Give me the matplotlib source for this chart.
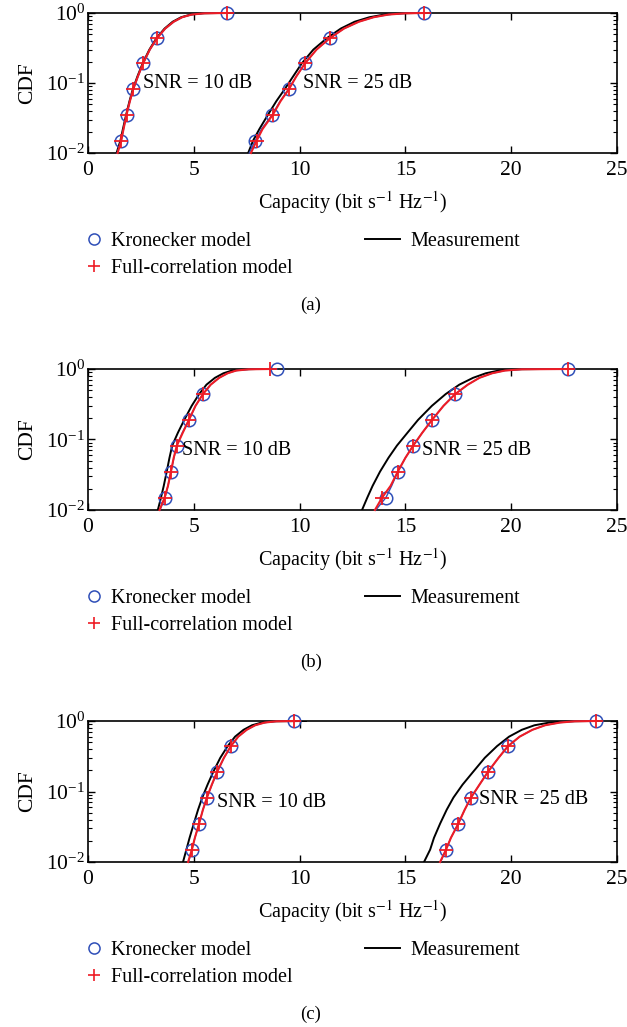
import numpy as np
import matplotlib
matplotlib.use("Agg")
import matplotlib.pyplot as plt
from matplotlib.lines import Line2D
from matplotlib.ticker import LogLocator, LogFormatterMathtext, NullFormatter

plt.rcParams["font.family"] = ["Liberation Serif", "DejaVu Serif"]
plt.rcParams["mathtext.fontset"] = "stix"

levels = [0.01, 0.015, 0.022, 0.035, 0.055, 0.082, 0.125, 0.19, 0.3, 0.44,
          0.6, 0.75, 0.87, 0.95, 0.99, 1.0]
# indices of levels that carry markers
mark_idx = [1, 3, 5, 7, 9, 15]

# panel (a)
a10_model = [1.40, 1.57, 1.68, 1.82, 1.98, 2.14, 2.36, 2.60, 2.92, 3.27, 3.65, 4.05, 4.45, 4.9, 5.5, 6.57]
a10_kron = [1.38, 1.57, 1.68, 1.82, 1.98, 2.15, 2.37, 2.61, 2.93, 3.27, 3.66, 4.06, 4.46, 4.9, 5.5, 6.57]
a10_meas = [1.35, 1.53, 1.65, 1.80, 1.96, 2.12, 2.34, 2.58, 2.90, 3.24, 3.62, 4.00, 4.40, 4.85, 5.4, 6.2]
a25_model = [7.70, 7.97, 8.25, 8.73, 9.10, 9.50, 9.85, 10.25, 10.80, 11.44, 12.1, 12.8, 13.5, 14.2, 15.0, 15.9]
a25_kron = [7.62, 7.90, 8.20, 8.70, 9.08, 9.48, 9.85, 10.25, 10.80, 11.44, 12.1, 12.8, 13.5, 14.2, 15.0, 15.9]
a25_meas = [7.57, 7.80, 8.10, 8.50, 8.90, 9.30, 9.70, 10.10, 10.65, 11.30, 11.95, 12.6, 13.3, 14.0, 14.8, 15.5]

# panel (b)
b10_model = [3.38, 3.62, 3.78, 3.92, 4.05, 4.20, 4.48, 4.77, 5.08, 5.43, 5.8, 6.2, 6.6, 7.0, 7.6, 8.6]
b10_kron = [3.40, 3.64, 3.78, 3.92, 4.06, 4.20, 4.46, 4.77, 5.08, 5.43, 5.8, 6.2, 6.6, 7.0, 7.6, 8.93]
b10_meas = [3.30, 3.45, 3.58, 3.72, 3.85, 3.98, 4.25, 4.55, 4.90, 5.25, 5.6, 6.0, 6.4, 6.8, 7.4, 8.0]
b25_model = [13.56, 13.90, 14.30, 14.64, 15.00, 15.37, 15.80, 16.26, 16.80, 17.35, 17.95, 18.5, 19.1, 19.7, 20.5, 22.7]
b25_kron = [13.60, 14.08, 14.35, 14.64, 15.00, 15.37, 15.80, 16.26, 16.80, 17.35, 17.95, 18.5, 19.1, 19.7, 20.5, 22.7]
b25_meas = [12.95, 13.20, 13.45, 13.80, 14.20, 14.60, 15.10, 15.60, 16.25, 16.90, 17.55, 18.2, 18.8, 19.4, 20.1, 21.5]

# panel (c)
c10_model = [4.73, 4.91, 5.05, 5.25, 5.43, 5.62, 5.85, 6.10, 6.42, 6.75, 7.1, 7.5, 7.9, 8.35, 8.9, 9.73]
c10_kron = [4.75, 4.91, 5.05, 5.25, 5.43, 5.62, 5.86, 6.11, 6.43, 6.76, 7.1, 7.5, 7.9, 8.35, 8.9, 9.73]
c10_meas = [4.49, 4.65, 4.80, 5.00, 5.20, 5.40, 5.65, 5.92, 6.25, 6.60, 6.95, 7.35, 7.75, 8.2, 8.8, 10.3]
c25_model = [16.64, 16.92, 17.15, 17.50, 17.80, 18.10, 18.50, 18.90, 19.40, 19.85, 20.4, 21.0, 21.6, 22.3, 23.0, 24.0]
c25_kron = [16.66, 16.92, 17.15, 17.50, 17.80, 18.10, 18.50, 18.90, 19.40, 19.85, 20.4, 21.0, 21.6, 22.3, 23.0, 24.0]
c25_meas = [15.88, 16.17, 16.35, 16.64, 16.95, 17.27, 17.70, 18.20, 18.75, 19.33, 19.9, 20.5, 21.1, 21.8, 22.7, 23.8]

panels = [
    ("(a)", a10_model, a10_kron, a10_meas, a25_model, a25_kron, a25_meas, (2.6, 0.1), (10.15, 0.1)),
    ("(b)", b10_model, b10_kron, b10_meas, b25_model, b25_kron, b25_meas, (4.45, 0.07), (15.8, 0.07)),
    ("(c)", c10_model, c10_kron, c10_meas, c25_model, c25_kron, c25_meas, (6.1, 0.07), (18.5, 0.078)),
]

BLUE = "#2f4fb8"
RED = "#ee1c25"
FS = 14.5

W, H = 627, 1027
fig = plt.figure(figsize=(W / 100, H / 100), dpi=100)

# axes pixel boxes: (left, top, right, bottom)
boxes = [(88, 13, 617, 153), (88, 369, 617, 510), (88, 721, 617, 862)]

for (cap, m10, k10, s10, m25, k25, s25, t10, t25), (l, t, r, b) in zip(panels, boxes):
    ax = fig.add_axes([l / W, 1 - b / H, (r - l) / W, (b - t) / H])
    for meas, kron, model in [(s10, k10, m10), (s25, k25, m25)]:
        ax.plot(meas, levels, color="black", lw=1.4, zorder=2)
        ax.plot(kron, levels, color=BLUE, lw=1.0, marker="o", mfc="none", mec=BLUE,
                ms=9, mew=1.1, markevery=mark_idx, zorder=3, clip_on=False)
        ax.plot(model, levels, color=RED, lw=1.5, marker="+", ms=10, mew=1.3,
                markevery=mark_idx, zorder=4, clip_on=False)
    ax.text(t10[0], t10[1], "SNR = 10 dB", fontsize=FS, va="center", ha="left")
    ax.text(t25[0], t25[1], "SNR = 25 dB", fontsize=FS, va="center", ha="left")

    ax.set_yscale("log")
    ax.set_xlim(0, 25)
    ax.set_ylim(0.01, 1)
    ax.set_xticks([0, 5, 10, 15, 20, 25])
    ax.yaxis.set_major_locator(LogLocator(base=10, numticks=5))
    ax.yaxis.set_major_formatter(LogFormatterMathtext())
    ax.yaxis.set_minor_locator(LogLocator(base=10, subs=np.arange(2, 10), numticks=20))
    ax.yaxis.set_minor_formatter(NullFormatter())
    ax.tick_params(which="both", direction="in", top=True, right=True, labelsize=15.5)
    ax.tick_params(axis="y", pad=2)
    ax.tick_params(axis="x", pad=6)
    ax.tick_params(which="major", length=5, width=1.0)
    ax.tick_params(which="minor", length=3, width=0.8)
    for sp in ax.spines.values():
        sp.set_linewidth(1.2)
    ax.set_xlabel(r"Capacity (bit s$^{-1}$ Hz$^{-1}$)", fontsize=FS, labelpad=6)
    ax.set_ylabel("CDF", fontsize=15.5, labelpad=7)

    # legend: model markers in one column, measurement line in another
    h_kron = Line2D([], [], ls="none", marker="o", mfc="none", mec=BLUE, ms=8, mew=1.1)
    h_full = Line2D([], [], ls="none", marker="+", color=RED, ms=9, mew=1.2)
    h_meas = Line2D([], [], color="black", lw=1.4)
    leg1 = ax.legend([h_kron, h_full], ["Kronecker model", "Full-correlation model"],
                     loc="upper left", bbox_to_anchor=(84 / W, 1 - (b + 79) / H),
                     bbox_transform=fig.transFigure, frameon=False, fontsize=FS,
                     handlelength=1.0, handletextpad=0.32, labelspacing=0.38,
                     borderpad=0, borderaxespad=0)
    ax.add_artist(leg1)
    ax.legend([h_meas], ["Measurement"], loc="upper left",
              bbox_to_anchor=(365 / W, 1 - (b + 79) / H), bbox_transform=fig.transFigure,
              frameon=False, fontsize=FS, handlelength=1.75, handletextpad=0.5,
              borderpad=0, borderaxespad=0)

    fig.text(311 / W, 1 - (b + 152) / H, cap, fontsize=FS - 1, ha="center", va="center")

fig.savefig("out.png", dpi=100)
